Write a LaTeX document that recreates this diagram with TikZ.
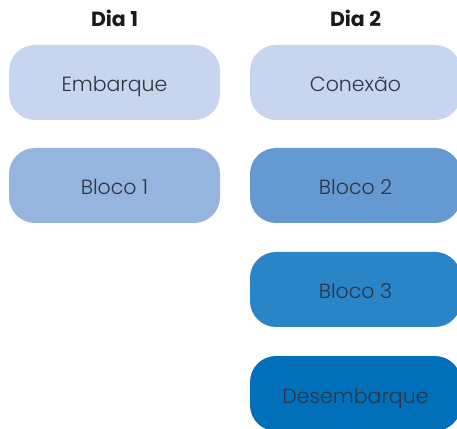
\documentclass[tikz,border=0pt]{standalone}
\usepackage{fontspec}
\setmainfont{Poppins}
\newfontfamily\lightfont{Poppins Light}
\definecolor{txt}{HTML}{2E3440}
\definecolor{cA}{HTML}{C7D5EE}
\definecolor{cB}{HTML}{95B4DE}
\definecolor{cC}{HTML}{6599D2}
\definecolor{cD}{HTML}{2A85C8}
\definecolor{cE}{HTML}{0070BA}
\begin{document}
\begin{tikzpicture}[x=1pt,y=1pt,
  stagebox/.style={rounded corners=26pt, minimum width=211pt, minimum height=75pt,
    inner sep=0pt, text=txt, text height=19pt, text depth=0pt,
    font=\lightfont\fontsize{20.5}{22}\selectfont},
  dayhead/.style={text=black!90, anchor=base, font=\fontsize{20.5}{22}\selectfont\bfseries}]
\useasboundingbox (0,0) rectangle (457,428);
\clip (0,0) rectangle (457,428);
\node[dayhead] (d1) at (114.5,401.5) {Dia 1};
\node[dayhead] (d2) at (355.5,401.5) {Dia 2};
\node[stagebox, fill=cA] (emb) at (114.5,345.5) {Embarque};
\node[stagebox, fill=cB] (b1) at (114.5,242.5) {Bloco 1};
\node[stagebox, fill=cA] (con) at (355.5,345.5) {Conexão};
\node[stagebox, fill=cC] (b2) at (355.5,242.5) {Bloco 2};
\node[stagebox, fill=cD] (b3) at (355.5,138.5) {Bloco 3};
\node[stagebox, fill=cE] (des) at (355.5,34.5) {Desembarque};
\end{tikzpicture}
\end{document}
